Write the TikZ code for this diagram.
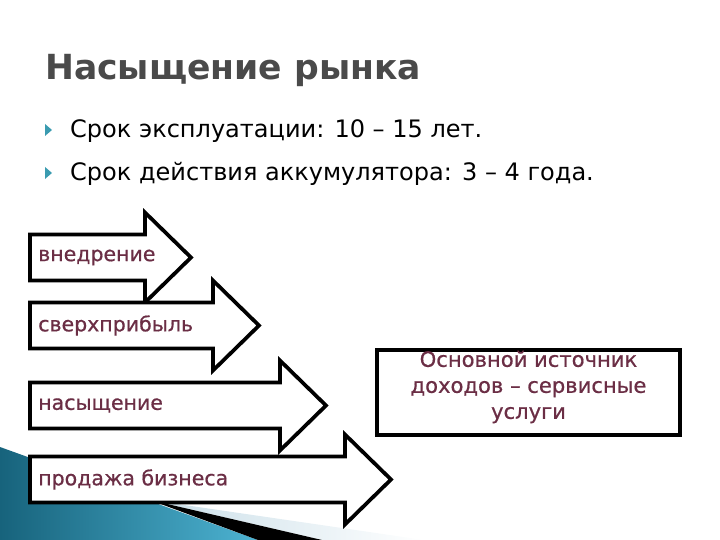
\documentclass[tikz,border=0pt]{standalone}
\usepackage{fontspec}
\setmainfont{DejaVu Sans}
\newfontfamily\labelfont[FakeBold=0.6]{DejaVu Sans}
\usetikzlibrary{positioning}
\definecolor{titlegray}{HTML}{4A4A4A}
\definecolor{bulletteal}{HTML}{3A9BB0}
\definecolor{labelred}{HTML}{6B2E45}
\definecolor{tealdark}{HTML}{17637C}
\definecolor{teallight}{HTML}{4DB3D2}
\definecolor{paleblue}{HTML}{C9DEE8}

\begin{document}
\begin{tikzpicture}[
    x=0.03cm, y=-0.03cm,
    title/.style={font=\fontsize{29.5}{34}\selectfont\bfseries, text=titlegray, anchor=base west, inner sep=0pt},
    item/.style={font=\fontsize{20.5}{25}\selectfont, anchor=base west, inner sep=0pt},
    bulletmark/.style={fill=bulletteal, draw=none},
    blockarrow/.style={draw=black, fill=white, line width=3.2pt, line join=miter},
    arrowlabel/.style={font=\labelfont\fontsize{17.5}{22}\selectfont, text=labelred, anchor=west, inner sep=0pt},
    infobox/.style={rectangle, draw=black, fill=white, line width=3.2pt, minimum width=9.09cm, minimum height=2.55cm},
    boxtext/.style={align=center, font=\labelfont\fontsize{18}{22.2}\selectfont, text=labelred, inner sep=0pt}
]
\useasboundingbox (0,0) rectangle (720,540);

% background corner
\shade[left color=tealdark, right color=teallight, draw=none] (0,447) -- (258,540) -- (0,540) -- cycle;
\shade[left color=paleblue, right color=white, draw=none] (150,500) -- (424,540) -- (322,540) -- cycle;
\fill[black] (150,500) -- (322,540) -- (258,540) -- cycle;

% title and bullets
\node[title] (head) at (45,80) {Насыщение рынка};
\node[item] (life) at (70,138) {Срок эксплуатации: 10 – 15 лет.};
\node[item] (battery) at (70,181) {Срок действия аккумулятора: 3 – 4 года.};
\fill[bulletmark] (45,124) -- (52,130) -- (45,136) -- cycle;
\fill[bulletmark] (45,167) -- (52,173) -- (45,179) -- cycle;

% stage arrows
\foreach \name/\txt/\yc/\base in {intro/внедрение/257.5/145, profit/сверхприбыль/325.5/213, sat/насыщение/405.5/280, sale/продажа бизнеса/479.5/345}{
  \draw[blockarrow] (30,\yc-23) -- (\base,\yc-23) -- (\base,\yc-45) -- (\base+46,\yc)
      -- (\base,\yc+45) -- (\base,\yc+23) -- (30,\yc+23) -- cycle;
  \node[arrowlabel] (\name) at (38,\yc) {\txt};
}

% income box
\node[infobox] (income) at (528.5,392.5) {};
\node[boxtext] (incometext) at (528.5,387) {Основной источник\\доходов – сервисные\\услуги};

\end{tikzpicture}
\end{document}
